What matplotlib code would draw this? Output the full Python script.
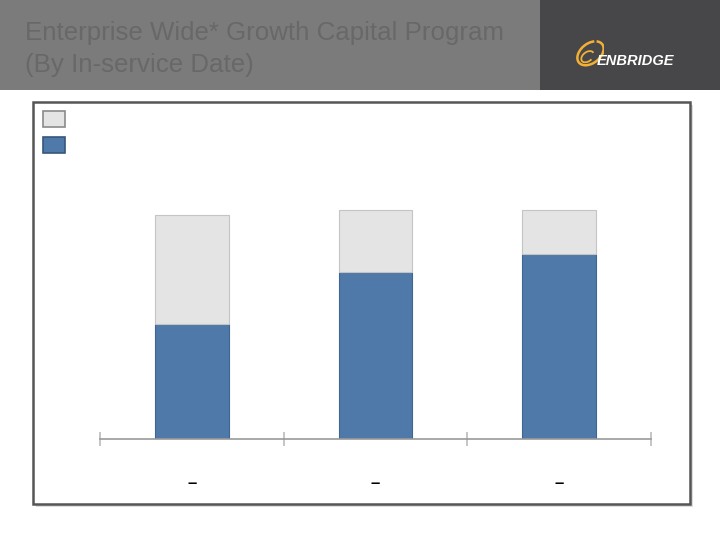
import matplotlib
matplotlib.use("Agg")
import matplotlib.pyplot as plt
from matplotlib.patches import Rectangle, Arc

plt.rcParams['font.family'] = ['Liberation Sans', 'DejaVu Sans']

# data (arbitrary units)
categories = ["–", "–", "–"]
in_service = [115, 167, 185]     # blue, lower segment
remaining = [109, 62, 44]        # light gray, upper segment
legend_labels = [" ", " "]

title_lines = ["Enterprise Wide* Growth Capital Program", "(By In-service Date)"]

W, H = 720, 540
fig = plt.figure(figsize=(W / 100, H / 100), dpi=100)
fig.patch.set_facecolor("white")


def fx(px):
    return px / W


def fy(py):
    return 1 - py / H


# header band
fig.patches.append(Rectangle((0, fy(90)), fx(540), 90 / H, transform=fig.transFigure,
                             facecolor="#7b7b7b", edgecolor="none", zorder=0))
fig.patches.append(Rectangle((fx(540), fy(90)), fx(180), 90 / H, transform=fig.transFigure,
                             facecolor="#474749", edgecolor="none", zorder=0))
fig.text(fx(25), fy(33), title_lines[0], fontsize=18.6, color="#686868", va="center", ha="left")
fig.text(fx(25), fy(65), title_lines[1], fontsize=18.6, color="#686868", va="center", ha="left")

# logo
fig.text(fx(597), fy(61), "ENBRIDGE", fontsize=10.5, fontweight="heavy", fontstyle="italic",
         color="white", va="center", ha="left", zorder=3)
logo = fig.add_axes([fx(574), fy(72), fx(30), 34 / H])
logo.set_zorder(3)
logo.set_xlim(0, 1)
logo.set_ylim(0, 1)
logo.axis("off")
logo.add_patch(Arc((0.55, 0.55), 0.95, 0.6, angle=30, theta1=40, theta2=390, color="#f2b134", lw=1.8))
logo.add_patch(Arc((0.45, 0.45), 0.45, 0.28, angle=30, theta1=0, theta2=300, color="#f2b134", lw=1.3))

# chart frame with shadow
fig.patches.append(Rectangle((fx(36), fy(507)), fx(657), 402 / H, transform=fig.transFigure,
                             facecolor="#dcdcdc", edgecolor="none", zorder=0))
fig.patches.append(Rectangle((fx(33), fy(504)), fx(657), 402 / H, transform=fig.transFigure,
                             facecolor="white", edgecolor="#555555", lw=1.8, zorder=0))

# plotting axes: x from 100 to 651 px, baseline at 439 px, top at 104 px
ax = fig.add_axes([fx(100), fy(439), fx(551), (439 - 104) / H])
ax.set_zorder(2)
ax.set_facecolor("none")
x = range(len(categories))
b1 = ax.bar(x, in_service, width=0.4, color="#4e79a8", edgecolor="#3f6590", lw=0.8, zorder=2)
b2 = ax.bar(x, remaining, width=0.4, bottom=in_service, color="#e4e4e4",
            edgecolor="#c4c4c4", lw=0.8, zorder=2)
ax.set_xlim(-0.5, 2.5)
ax.set_ylim(0, 335)
for s in ["top", "right", "left"]:
    ax.spines[s].set_visible(False)
ax.spines["bottom"].set_color("#999999")
ax.spines["bottom"].set_linewidth(1.2)
ax.set_yticks([])
ax.set_xticks([-0.5, 0.5, 1.5, 2.5])
ax.set_xticklabels([])
ax.tick_params(axis="x", direction="inout", length=10, color="#bbbbbb", width=1.2)
for i, lab in enumerate(categories):
    ax.text(i, -45, lab, ha="center", va="center", fontsize=12, fontweight="bold",
            color="black", transform=ax.transData, clip_on=False)

leg = fig.legend([b2, b1], legend_labels, loc="upper left",
                 bbox_to_anchor=(fx(43), fy(111)), frameon=False,
                 handlelength=1.45, handleheight=1.2, labelspacing=0.65,
                 borderaxespad=0, borderpad=0, fontsize=11)
leg.set_zorder(3)
legend_edges = ["#8a8a8a", "#36577c"]
for h, ec in zip(leg.legend_handles, legend_edges):
    h.set_edgecolor(ec)
    h.set_linewidth(1.2)

fig.savefig("out.png", dpi=100)
